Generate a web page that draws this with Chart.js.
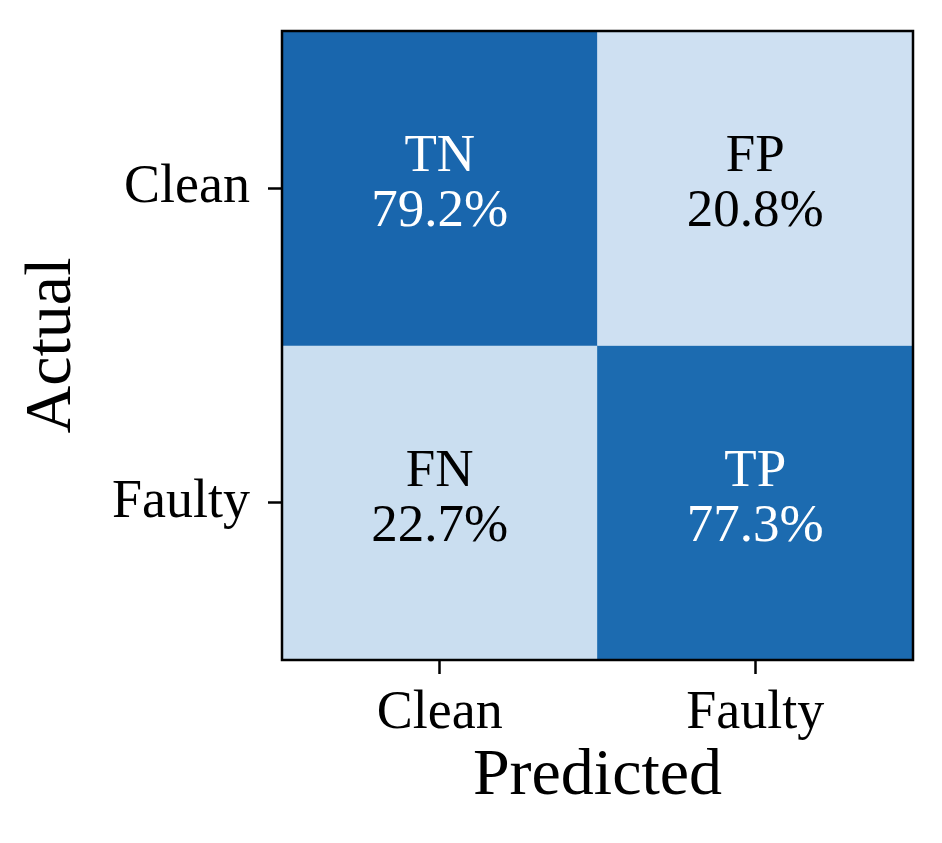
<!DOCTYPE html>
<html>
<head>
<meta charset="utf-8">
<script src="https://cdn.jsdelivr.net/npm/chart.js@4.4.0/dist/chart.umd.min.js"></script>
<style>
  html,body{margin:0;padding:0;background:#fff;}
  #wrap{width:942px;height:843px;}
</style>
</head>
<body>
<div id="wrap"><canvas id="cm" width="942" height="843"></canvas></div>
<script>
// confusion matrix data
const predicted = ['Clean', 'Faulty'];
const actual = ['Clean', 'Faulty'];
const cellTags = [['TN', 'FP'], ['FN', 'TP']];
const cellPct = [[79.2, 20.8], [22.7, 77.3]];

// matplotlib "Blues" anchors
const blueStops = ['#f7fbff','#deebf7','#c6dbef','#9ecae1','#6baed6','#4292c6','#2171b5','#08519c','#08306b'];
function hex2rgb(h){ return [1,3,5].map(i=>parseInt(h.substr(i,2),16)); }
function blues(t){
  t = Math.max(0, Math.min(1, t));
  let p = t*(blueStops.length-1);
  let i = Math.min(Math.floor(p), blueStops.length-2);
  let f = p-i;
  let a = hex2rgb(blueStops[i]), b = hex2rgb(blueStops[i+1]);
  let c = a.map((v,k)=>Math.round(v+(b[k]-v)*f));
  return 'rgb('+c.join(',')+')';
}

const fontFam = '"Liberation Serif", "DejaVu Serif", serif';

let datasets = [];
for (let i = 0; i < actual.length; i++) {
  let row = actual.length-1-i;
  datasets.push({
    label: actual[i],
    data: predicted.map(()=>[row, row+1]),
    backgroundColor: cellPct[i].map(v=>blues(v/100)),
    borderWidth: 0,
    barPercentage: 1,
    categoryPercentage: 1,
    grouped: false
  });
}

const cellText = {
  id: 'cellText',
  afterDatasetsDraw(chart){
    const ctx = chart.ctx;
    ctx.save();
    ctx.font = '53px ' + fontFam;
    ctx.textAlign = 'center';
    ctx.textBaseline = 'middle';
    chart.data.datasets.forEach((ds, i)=>{
      chart.getDatasetMeta(i).data.forEach((el, j)=>{
        const c = el.getCenterPoint();
        const v = cellPct[i][j];
        ctx.fillStyle = v > 50 ? '#ffffff' : '#000000';
        ctx.fillText(cellTags[i][j], c.x, c.y - 31);
        ctx.fillText(v.toFixed(1) + '%', c.x, c.y + 24);
      });
    });
    // frame round the matrix
    const a = chart.chartArea;
    ctx.lineWidth = 2.5;
    ctx.strokeStyle = '#000';
    ctx.strokeRect(a.left, a.top, a.right-a.left, a.bottom-a.top);
    ctx.restore();
  }
};

new Chart(document.getElementById('cm'), {
  type: 'bar',
  data: { labels: predicted, datasets: datasets },
  options: {
    responsive: false,
    animation: false,
    devicePixelRatio: 1,
    layout: { padding: { top: 31, right: 29, left: 0, bottom: 0 } },
    plugins: { legend: { display: false }, tooltip: { enabled: false } },
    scales: {
      x: {
        grid: { offset: false, drawOnChartArea: false, drawTicks: true, tickLength: 14, tickWidth: 2.5, tickColor: '#000' },
        border: { display: false },
        ticks: { color: '#000', padding: 7, font: { family: fontFam, size: 54 } },
        title: { display: true, text: 'Predicted', color: '#000', font: { family: fontFam, size: 66 }, padding: { top: 0, bottom: 27 } },
        afterFit: s => { s.height = 843 - 660; s.paddingLeft = 0; s.paddingRight = 0; }
      },
      y: {
        min: 0, max: 2,
        afterBuildTicks: s => { s.ticks = [{ value: 0.5 }, { value: 1.5 }]; },
        grid: { drawOnChartArea: false, drawTicks: true, tickLength: 14, tickWidth: 2.5, tickColor: '#000' },
        border: { display: false },
        ticks: {
          color: '#000', padding: 18, font: { family: fontFam, size: 54 },
          callback: v => actual[actual.length-1-Math.floor(v)]
        },
        title: { display: true, text: 'Actual', color: '#000', font: { family: fontFam, size: 66 }, padding: { top: 13, bottom: 0 } },
        afterFit: s => { s.width = 282; s.paddingTop = 0; s.paddingBottom = 0; }
      }
    }
  },
  plugins: [cellText]
});
</script>
</body>
</html>
